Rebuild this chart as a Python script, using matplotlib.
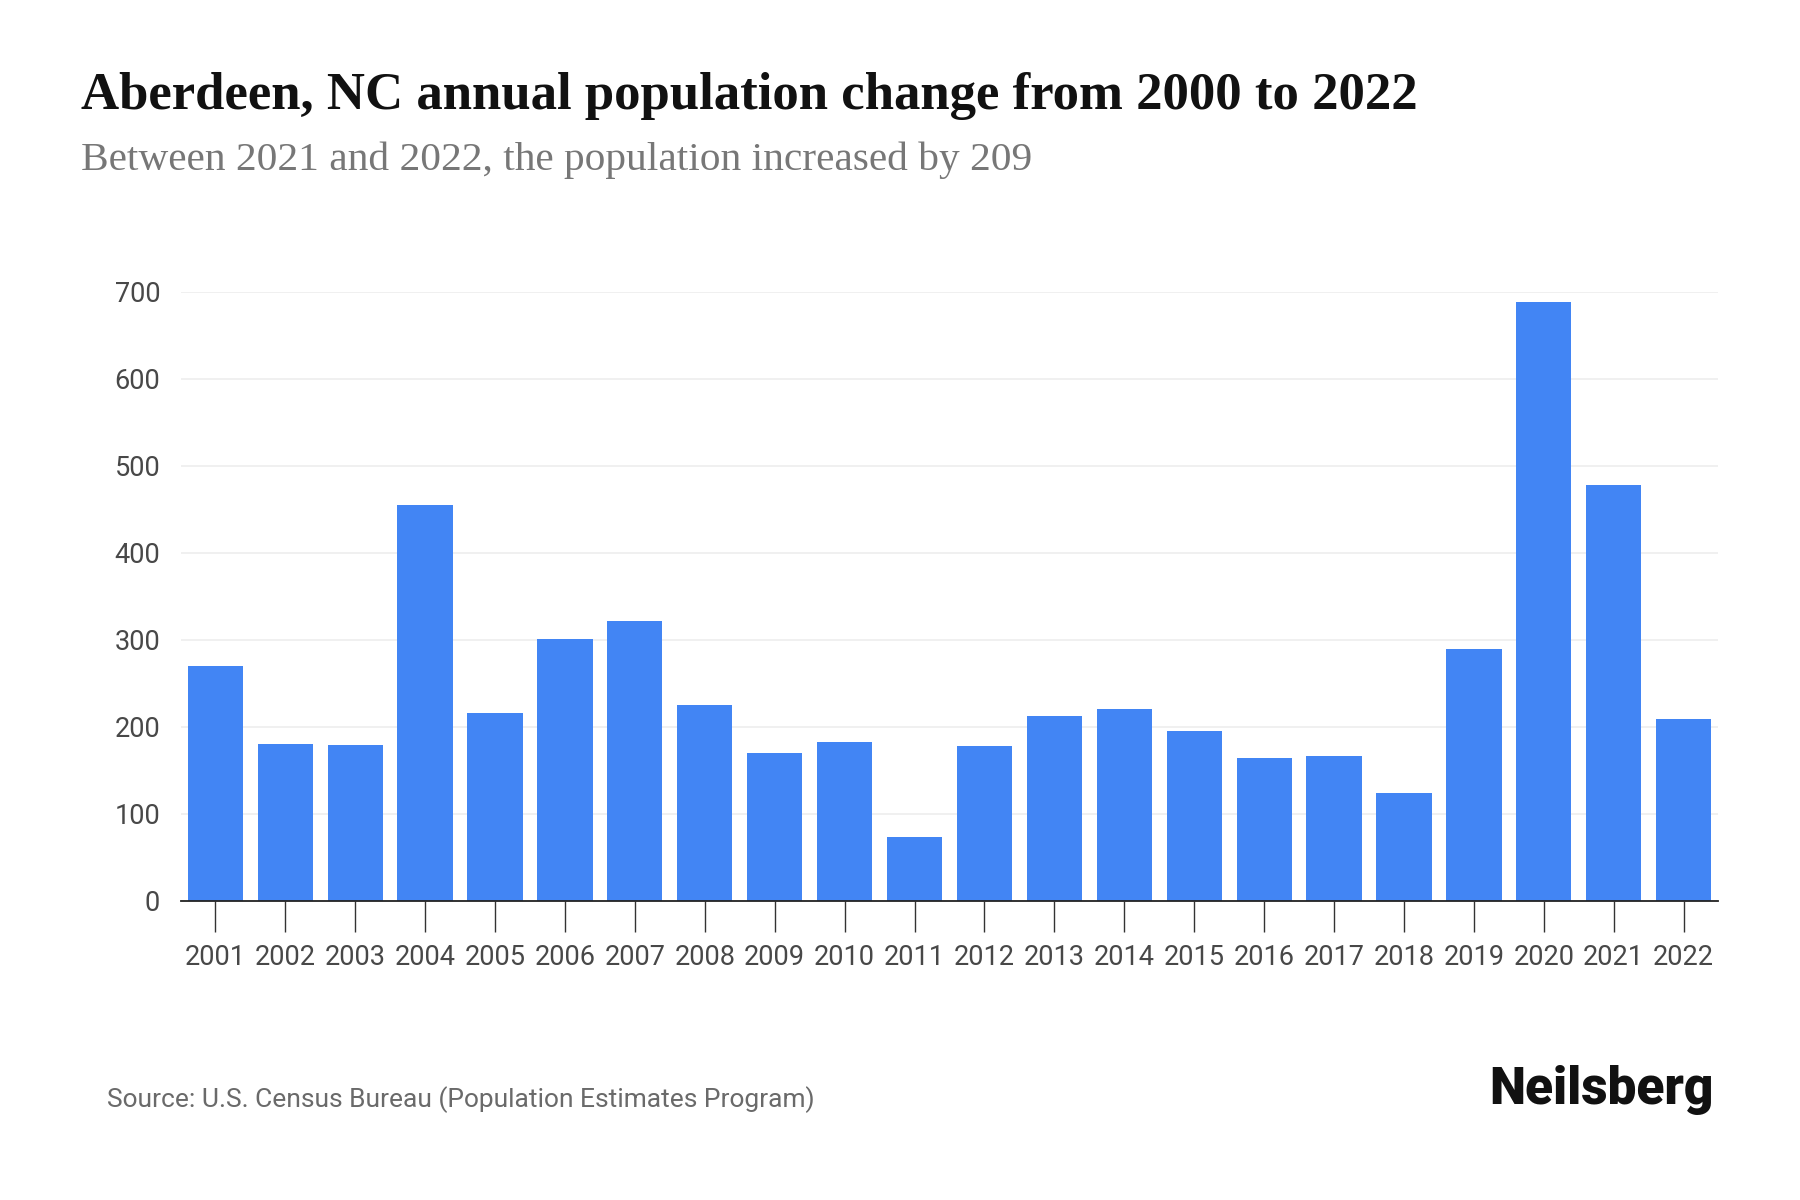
import numpy as np
import matplotlib.pyplot as plt

# Datos: cambio anual de población
years = ['2001', '2002', '2003', '2004', '2005', '2006', '2007', '2008', '2009', '2010', '2011',
         '2012', '2013', '2014', '2015', '2016', '2017', '2018', '2019', '2020', '2021', '2022']
changes = [270, 180, 179, 455, 216, 301, 322, 225, 170, 182, 73,
           178, 212, 220, 195, 164, 166, 124, 289, 688, 478, 209]
yticks = [0, 100, 200, 300, 400, 500, 600, 700]

fig = plt.figure(figsize=(18, 12), dpi=100)
ax = fig.add_axes([0.1006, 0.2494, 0.8538, 0.5075])

x = np.arange(len(years))
ax.bar(x, changes, width=0.79, color='#4285f4', zorder=2)

ax.set_xlim(-0.49, len(years) - 0.51)
ax.set_ylim(0, 700)
ax.set_yticks(yticks)
ax.set_xticks(x)
ax.set_xticklabels(years)

ax.grid(axis='y', color='#eeeeee', linewidth=1.2, zorder=0)
for s in ['top', 'right', 'left']:
    ax.spines[s].set_visible(False)
ax.spines['bottom'].set_color('#222222')
ax.spines['bottom'].set_linewidth(1.3)
ax.spines['bottom'].set_zorder(3)

ax.tick_params(axis='x', length=22, width=1.0, color='#333333', pad=9,
               labelsize=19.5, labelcolor='#484848')
ax.tick_params(axis='y', length=0, pad=15, labelsize=19.5, labelcolor='#484848')
for lab in ax.get_xticklabels() + ax.get_yticklabels():
    lab.set_family('Roboto')
    lab.set_fontweight('normal')

# Títulos
fig.text(81 / 1800, 1 - 109 / 1200, 'Aberdeen, NC annual population change from 2000 to 2022',
         family='Liberation Serif', fontweight='bold', fontsize=38, color='#111111',
         va='baseline', ha='left')
fig.text(81 / 1800, 1 - 170 / 1200, 'Between 2021 and 2022, the population increased by 209',
         family='Liberation Serif', fontsize=29.8, color='#777777', va='baseline', ha='left')

# Pie
fig.text(107 / 1800, 1 - 1100 / 1200, 'Source: U.S. Census Bureau (Population Estimates Program)',
         family='Roboto', fontweight='normal', fontsize=19, color='#6a6a6a',
         va='center', ha='left')
fig.text(1714 / 1800, 1 - 1090 / 1200, 'Neilsberg', family='Roboto', fontweight='heavy',
         fontsize=37, color='#111111', va='center', ha='right')

fig.savefig('out.png', dpi=100)
